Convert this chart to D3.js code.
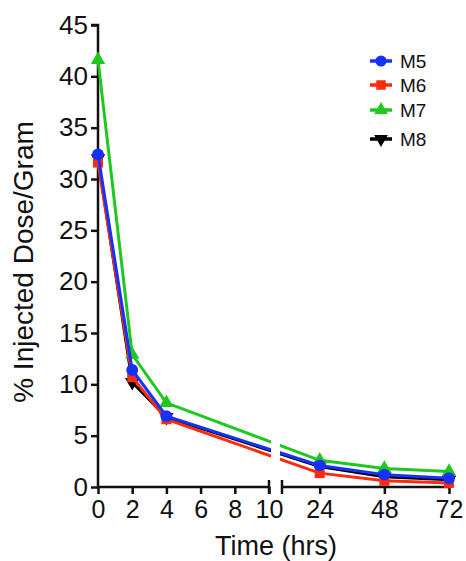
<!DOCTYPE html>
<html>
<head>
<meta charset="utf-8">
<script src="https://cdn.jsdelivr.net/npm/d3@7"></script>
<style>
  body { margin: 0; background: #fff; }
  text { font-family: "Liberation Sans", Arial, sans-serif; fill: #111; }
</style>
</head>
<body>
<div id="graphic"></div>
<script>
// time points (hrs) and % injected dose per gram for each mouse
const times = [0, 2, 4, 24, 48, 72];
const m5 = [32.4, 11.4, 6.9, 2.1, 1.2, 0.85];
const m6 = [31.6, 10.7, 6.6, 1.35, 0.6, 0.4];
const m7 = [41.6, 12.9, 8.2, 2.6, 1.8, 1.5];
const m8 = [32.0, 10.2, 6.8, 2.0, 1.0, 0.7];

const seriesNames = ["M5", "M6", "M7", "M8"];
const yTicks = [0, 5, 10, 15, 20, 25, 30, 35, 40, 45];
const xTicksLeft = [0, 2, 4, 6, 8, 10];
const xTicksRight = [24, 48, 72];

const styles = {
  M5: { color: "#1432ff", symbol: d3.symbolCircle, size: 110, rot: 0 },
  M6: { color: "#ff2a0a", symbol: d3.symbolSquare, size: 100, rot: 0 },
  M7: { color: "#1ec81e", symbol: d3.symbolTriangle, size: 90, rot: 0 },
  M8: { color: "#000000", symbol: d3.symbolTriangle, size: 90, rot: 180 }
};

const series = [
  { name: "M5", values: m5 },
  { name: "M6", values: m6 },
  { name: "M7", values: m7 },
  { name: "M8", values: m8 }
];

const W = 466, H = 561;
const svg = d3.select("#graphic").append("svg")
  .attr("width", W).attr("height", H);

// broken x axis: two segments
const xLeft = d3.scaleLinear().domain([0, 10]).range([98, 269]);
const xRight = d3.scaleLinear().domain([10, 72]).range([282, 449]);
const xPos = t => t <= 10 ? xLeft(t) : xRight(t);
const y = d3.scaleLinear().domain([0, 45]).range([487, 25]);

// clip the lines so there is a gap at the break
const defs = svg.append("defs");
const clip = defs.append("clipPath").attr("id", "brk");
clip.append("rect").attr("x", 0).attr("y", 0).attr("width", 271).attr("height", H);
clip.append("rect").attr("x", 280).attr("y", 0).attr("width", W - 280).attr("height", H);

// axes
const yAxis = d3.axisLeft(y).tickValues(yTicks).tickSize(7).tickPadding(3);
const gy = svg.append("g").attr("transform", "translate(98,0)").call(yAxis);
gy.select(".domain").attr("d", `M-7,${y(45)}H0V${y(0)}`);

const xAxisL = d3.axisBottom(xLeft).tickValues(xTicksLeft).tickSize(7).tickPadding(6);
const gxl = svg.append("g").attr("transform", `translate(0,${y(0)})`).call(xAxisL);
gxl.select(".domain").attr("d", `M${xLeft(0)},0H${xLeft(10)}`);

const xAxisR = d3.axisBottom(xRight).tickValues(xTicksRight).tickSize(7).tickPadding(6);
const gxr = svg.append("g").attr("transform", `translate(0,${y(0)})`).call(xAxisR);
gxr.select(".domain").attr("d", `M${xRight(10)},0H${xRight(72)}`);

// end caps at the break
[xLeft(10), xRight(10)].forEach(function(cx){
  svg.append("line")
    .attr("x1", cx).attr("x2", cx)
    .attr("y1", y(0) - 7).attr("y2", y(0) + 7)
    .attr("stroke", "#111").attr("stroke-width", 2.5);
});

svg.selectAll(".domain, .tick line")
  .attr("stroke", "#111").attr("stroke-width", 2.5);
svg.selectAll(".tick text")
  .style("font-family", "'Liberation Sans', Arial, sans-serif")
  .attr("fill", "#111");
gy.selectAll(".tick text").style("font-size", "26px");
gxl.selectAll(".tick text").style("font-size", "25px");
gxr.selectAll(".tick text").style("font-size", "25px");

// axis titles
svg.append("text")
  .attr("x", 276).attr("y", 555)
  .attr("text-anchor", "middle")
  .style("font-size", "27px")
  .text("Time (hrs)");

svg.append("text")
  .attr("transform", "translate(33,262) rotate(-90)")
  .attr("text-anchor", "middle")
  .style("font-size", "28px")
  .text("% Injected Dose/Gram");

// lines, drawn back to front
const line = d3.line()
  .x(d => xPos(d.t))
  .y(d => y(d.v));

const order = ["M8", "M7", "M6", "M5"];
const plot = svg.append("g");

order.forEach(function(name){
  const s = series.find(e => e.name === name);
  const st = styles[name];
  const pts = times.map((t, i) => ({ t: t, v: s.values[i] }));
  plot.append("path")
    .datum(pts)
    .attr("clip-path", "url(#brk)")
    .attr("fill", "none")
    .attr("stroke", st.color)
    .attr("stroke-width", 3)
    .attr("d", line);
  plot.selectAll(null)
    .data(pts)
    .enter()
    .append("path")
    .attr("d", d3.symbol().type(st.symbol).size(st.size))
    .attr("transform", d => `translate(${xPos(d.t)},${y(d.v)}) rotate(${st.rot})`)
    .attr("fill", st.color);
});

// legend
const legendY = { M5: 61, M6: 85, M7: 110, M8: 139 };
seriesNames.forEach(function(name){
  const st = styles[name];
  const g = svg.append("g").attr("transform", `translate(381,${legendY[name]})`);
  g.append("line")
    .attr("x1", -11).attr("x2", 11)
    .attr("stroke", st.color).attr("stroke-width", 3.5);
  g.append("path")
    .attr("d", d3.symbol().type(st.symbol).size(st.size * 0.9))
    .attr("transform", `rotate(${st.rot})`)
    .attr("fill", st.color);
  g.append("text")
    .attr("x", 19).attr("y", 7)
    .style("font-size", "19px")
    .text(name);
});
</script>
</body>
</html>
